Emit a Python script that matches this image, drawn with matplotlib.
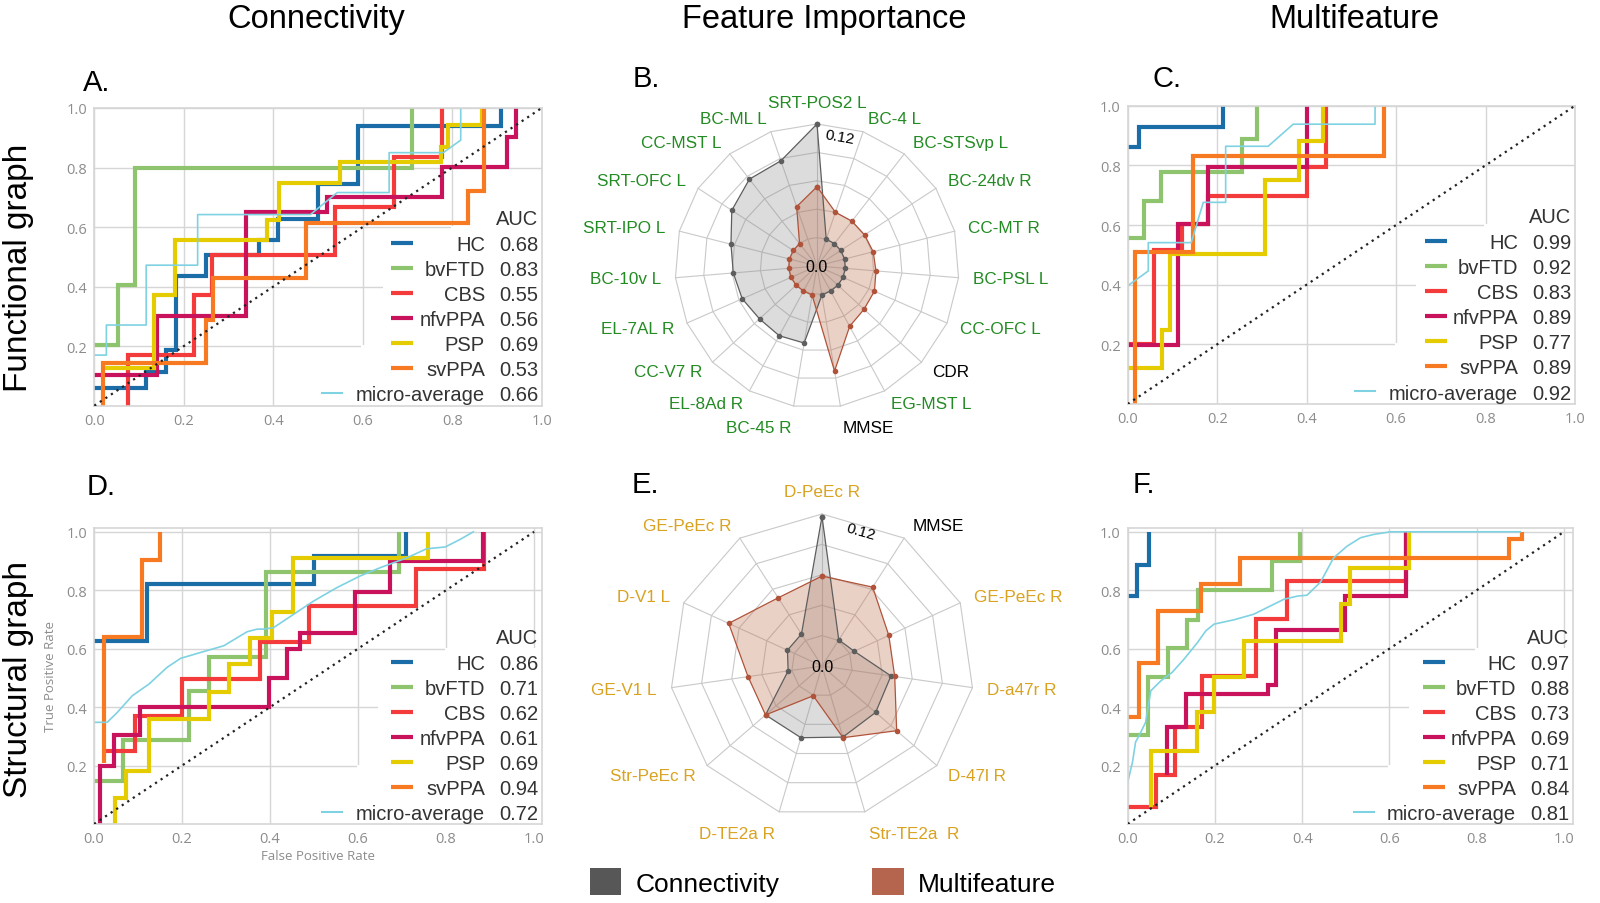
import numpy as np
import matplotlib
matplotlib.use('Agg')
import matplotlib.pyplot as plt
from matplotlib.lines import Line2D
from matplotlib.patches import Rectangle, Patch

plt.rcParams['font.family'] = ['Liberation Sans', 'DejaVu Sans']

W, H = 1600, 904

# ---------------- ROC data ----------------
classes = ['HC', 'bvFTD', 'CBS', 'nfvPPA', 'PSP', 'svPPA', 'micro-average']
class_colors = ['#1a6da6', '#8fc46f', '#f43b3b', '#c8135c', '#e5cc00', '#f77a22', '#7fd2e2']

# A. connectivity / functional graph
A_HC_x = [0, 0.116, 0.116, 0.161, 0.161, 0.183, 0.183, 0.25, 0.25, 0.368, 0.368, 0.41, 0.41, 0.5, 0.5, 0.59, 0.59, 0.91, 0.91]
A_HC_y = [0.058, 0.058, 0.114, 0.114, 0.187, 0.187, 0.436, 0.436, 0.506, 0.506, 0.556, 0.556, 0.626, 0.626, 0.746, 0.746, 0.94, 0.94, 1.0]
A_bvFTD_x = [0, 0.054, 0.054, 0.092, 0.092, 0.711, 0.711]
A_bvFTD_y = [0.204, 0.204, 0.405, 0.405, 0.80, 0.80, 1.0]
A_CBS_x = [0.075, 0.075, 0.222, 0.222, 0.263, 0.263, 0.539, 0.539, 0.67, 0.67, 0.778, 0.778]
A_CBS_y = [0.0, 0.17, 0.17, 0.371, 0.371, 0.506, 0.506, 0.668, 0.668, 0.836, 0.836, 1.0]
A_nfvPPA_x = [0, 0.14, 0.14, 0.339, 0.339, 0.52, 0.52, 0.778, 0.778, 0.922, 0.922, 0.942, 0.942]
A_nfvPPA_y = [0.103, 0.103, 0.301, 0.301, 0.651, 0.651, 0.70, 0.70, 0.802, 0.802, 0.903, 0.903, 1.0]
A_PSP_x = [0.02, 0.133, 0.133, 0.18, 0.18, 0.386, 0.386, 0.412, 0.412, 0.549, 0.549, 0.774, 0.774, 0.79, 0.79, 0.867, 0.867]
A_PSP_y = [0.125, 0.125, 0.371, 0.371, 0.556, 0.556, 0.625, 0.625, 0.749, 0.749, 0.819, 0.819, 0.87, 0.87, 0.942, 0.942, 1.0]
A_svPPA_x = [0.02, 0.02, 0.25, 0.25, 0.265, 0.265, 0.474, 0.474, 0.835, 0.835, 0.87, 0.87]
A_svPPA_y = [0.0, 0.142, 0.142, 0.287, 0.287, 0.43, 0.43, 0.615, 0.615, 0.72, 0.72, 1.0]
A_micro_x = [0, 0.027, 0.027, 0.116, 0.116, 0.231, 0.231, 0.483, 0.543, 0.659, 0.659, 0.78, 0.819, 0.819]
A_micro_y = [0.17, 0.17, 0.271, 0.271, 0.472, 0.472, 0.642, 0.642, 0.716, 0.716, 0.85, 0.85, 0.892, 1.0]
A_auc = [0.68, 0.83, 0.55, 0.56, 0.69, 0.53, 0.66]

# C. multifeature / functional graph
C_HC_x = [0, 0.026, 0.026, 0.212, 0.212]
C_HC_y = [0.862, 0.862, 0.927, 0.927, 1.0]
C_bvFTD_x = [0, 0.037, 0.037, 0.075, 0.075, 0.255, 0.255, 0.29, 0.29]
C_bvFTD_y = [0.556, 0.556, 0.681, 0.681, 0.779, 0.779, 0.888, 0.888, 1.0]
C_CBS_x = [0, 0.059, 0.059, 0.121, 0.121, 0.18, 0.18, 0.4, 0.4, 0.443, 0.443]
C_CBS_y = [0.2, 0.2, 0.516, 0.516, 0.603, 0.603, 0.698, 0.698, 0.795, 0.795, 1.0]
C_nfvPPA_x = [0, 0.112, 0.112, 0.18, 0.18, 0.4, 0.4]
C_nfvPPA_y = [0.198, 0.198, 0.603, 0.603, 0.795, 0.795, 1.0]
C_PSP_x = [0, 0.076, 0.076, 0.095, 0.095, 0.306, 0.306, 0.383, 0.383, 0.436, 0.436]
C_PSP_y = [0.122, 0.122, 0.248, 0.248, 0.504, 0.504, 0.752, 0.752, 0.88, 0.88, 1.0]
C_svPPA_x = [0.016, 0.016, 0.147, 0.147, 0.573, 0.573]
C_svPPA_y = [0.0, 0.508, 0.508, 0.832, 0.832, 1.0]
C_micro_x = [0, 0.046, 0.046, 0.142, 0.169, 0.219, 0.219, 0.314, 0.37, 0.553, 0.553]
C_micro_y = [0.396, 0.446, 0.541, 0.541, 0.676, 0.676, 0.864, 0.864, 0.938, 0.938, 1.0]
C_auc = [0.99, 0.92, 0.83, 0.89, 0.77, 0.89, 0.92]

# D. connectivity / structural graph
D_HC_x = [0, 0.121, 0.121, 0.499, 0.499, 0.709, 0.709]
D_HC_y = [0.625, 0.625, 0.822, 0.822, 0.917, 0.917, 1.0]
D_bvFTD_x = [0, 0.066, 0.066, 0.216, 0.216, 0.262, 0.262, 0.39, 0.39, 0.694, 0.694]
D_bvFTD_y = [0.146, 0.146, 0.286, 0.286, 0.456, 0.456, 0.57, 0.57, 0.862, 0.862, 1.0]
D_CBS_x = [0.02, 0.093, 0.093, 0.2, 0.2, 0.377, 0.377, 0.488, 0.488, 0.732, 0.732, 0.887, 0.887]
D_CBS_y = [0.249, 0.249, 0.371, 0.371, 0.496, 0.496, 0.623, 0.623, 0.746, 0.746, 0.874, 0.874, 1.0]
D_nfvPPA_x = [0.014, 0.014, 0.045, 0.045, 0.104, 0.104, 0.397, 0.397, 0.439, 0.439, 0.467, 0.467, 0.594, 0.594, 0.672, 0.672, 0.884, 0.884]
D_nfvPPA_y = [0.0, 0.2, 0.2, 0.303, 0.303, 0.40, 0.40, 0.498, 0.498, 0.598, 0.598, 0.655, 0.655, 0.794, 0.794, 0.90, 0.90, 1.0]
D_PSP_x = [0.047, 0.047, 0.072, 0.072, 0.126, 0.126, 0.262, 0.262, 0.306, 0.306, 0.354, 0.354, 0.405, 0.405, 0.452, 0.452, 0.76, 0.76]
D_PSP_y = [0.0, 0.089, 0.089, 0.18, 0.18, 0.36, 0.36, 0.453, 0.453, 0.547, 0.547, 0.635, 0.635, 0.726, 0.726, 0.911, 0.911, 1.0]
D_svPPA_x = [0.023, 0.023, 0.11, 0.11, 0.15, 0.15]
D_svPPA_y = [0.21, 0.64, 0.64, 0.903, 0.903, 1.0]
D_micro_x = [0, 0.03, 0.053, 0.087, 0.125, 0.166, 0.197, 0.242, 0.295, 0.348, 0.371, 0.386, 0.408, 0.454, 0.499, 0.552, 0.605, 0.65, 0.711, 0.756, 0.798, 0.832, 0.862]
D_micro_y = [0.348, 0.348, 0.382, 0.439, 0.479, 0.536, 0.567, 0.587, 0.61, 0.658, 0.667, 0.667, 0.672, 0.718, 0.763, 0.809, 0.849, 0.877, 0.911, 0.942, 0.948, 0.974, 1.0]
D_auc = [0.86, 0.71, 0.62, 0.61, 0.69, 0.94, 0.72]

# F. multifeature / structural graph
F_HC_x = [0, 0.021, 0.021, 0.049, 0.049]
F_HC_y = [0.78, 0.78, 0.887, 0.887, 1.0]
F_bvFTD_x = [0, 0.047, 0.047, 0.092, 0.092, 0.137, 0.137, 0.16, 0.16, 0.33, 0.33, 0.396, 0.396]
F_bvFTD_y = [0.303, 0.303, 0.502, 0.502, 0.601, 0.601, 0.699, 0.699, 0.80, 0.80, 0.90, 0.90, 1.0]
F_CBS_x = [0, 0.066, 0.066, 0.108, 0.108, 0.171, 0.171, 0.295, 0.295, 0.366, 0.366, 0.637, 0.637]
F_CBS_y = [0.058, 0.058, 0.168, 0.168, 0.331, 0.331, 0.505, 0.505, 0.703, 0.703, 0.832, 0.832, 1.0]
F_nfvPPA_x = [0.091, 0.091, 0.133, 0.133, 0.321, 0.321, 0.34, 0.34, 0.499, 0.499, 0.637, 0.637]
F_nfvPPA_y = [0.168, 0.331, 0.331, 0.445, 0.445, 0.476, 0.476, 0.664, 0.664, 0.78, 0.78, 1.0]
F_PSP_x = [0.053, 0.053, 0.158, 0.158, 0.198, 0.198, 0.266, 0.266, 0.488, 0.488, 0.509, 0.509, 0.644, 0.644]
F_PSP_y = [0.058, 0.251, 0.251, 0.382, 0.382, 0.502, 0.502, 0.627, 0.627, 0.752, 0.752, 0.877, 0.877, 1.0]
F_svPPA_x = [0, 0.026, 0.026, 0.07, 0.07, 0.167, 0.167, 0.257, 0.257, 0.873, 0.873, 0.904, 0.904]
F_svPPA_y = [0.365, 0.365, 0.551, 0.551, 0.729, 0.729, 0.82, 0.82, 0.911, 0.911, 0.977, 0.977, 1.0]
F_micro_x = [0, 0.011, 0.018, 0.03, 0.041, 0.053, 0.076, 0.102, 0.129, 0.16, 0.179, 0.198, 0.244, 0.289, 0.32, 0.358, 0.389, 0.411, 0.442, 0.472, 0.503, 0.534, 0.564, 0.602, 0.9]
F_micro_y = [0.143, 0.212, 0.28, 0.314, 0.348, 0.456, 0.49, 0.519, 0.564, 0.621, 0.661, 0.684, 0.699, 0.718, 0.741, 0.769, 0.78, 0.783, 0.828, 0.911, 0.951, 0.98, 0.991, 1.0, 1.0]
F_auc = [0.97, 0.88, 0.73, 0.69, 0.71, 0.84, 0.81]

# ---------------- radar data ----------------
B_labels = ['SRT-POS2 L', 'BC-4 L', 'BC-STSvp L', 'BC-24dv R', 'CC-MT R', 'BC-PSL L', 'CC-OFC L', 'CDR',
            'EG-MST L', 'MMSE', 'BC-45 R', 'EL-8Ad R', 'CC-V7 R', 'EL-7AL R', 'BC-10v L', 'SRT-IPO L',
            'SRT-OFC L', 'CC-MST L', 'BC-ML L']
B_conn = [0.12, 0.024, 0.024, 0.024, 0.024, 0.024, 0.024, 0.024, 0.024, 0.025,
          0.066, 0.067, 0.066, 0.069, 0.071, 0.075, 0.086, 0.093, 0.094]
B_multi = [0.067, 0.048, 0.048, 0.048, 0.049, 0.050, 0.053, 0.054, 0.058, 0.090,
           0.025, 0.024, 0.024, 0.024, 0.024, 0.024, 0.024, 0.024, 0.053]

E_labels = ['D-PeEc R', 'MMSE', 'GE-PeEc R', 'D-a47r R', 'D-47l R', 'Str-TE2a  R', 'D-TE2a R',
            'Str-PeEc R', 'GE-V1 L', 'D-V1 L', 'GE-PeEc R']
E_conn = [0.118, 0.0245, 0.028, 0.055, 0.056, 0.0585, 0.059, 0.059, 0.027, 0.030, 0.030]
E_multi = [0.071, 0.074, 0.058, 0.058, 0.078, 0.059, 0.0245, 0.059, 0.059, 0.081, 0.064]

clinical = ['CDR', 'MMSE']

fig = plt.figure(figsize=(W / 100, H / 100), dpi=100)


def px_rect(l, t, r, b):
    return [l / W, 1 - b / H, (r - l) / W, (b - t) / H]


grid_col = '#d6d6d6'
tick_col = '#8c8c8c'
txt_col = '#333333'


def roc_panel(rect, xs, ys, aucs, xmax, ymax):
    ax = fig.add_axes(rect)
    ax.set_xlim(0, xmax)
    ax.set_ylim(0, ymax)
    ax.set_xticks([0, 0.2, 0.4, 0.6, 0.8, 1.0])
    ax.set_xticklabels(['0.0', '0.2', '0.4', '0.6', '0.8', '1.0'], fontfamily='Open Sans')
    ax.set_yticks([0.2, 0.4, 0.6, 0.8, 1.0])
    ax.set_yticklabels(['0.2', '0.4', '0.6', '0.8', '1.0'], fontfamily='Open Sans')
    ax.tick_params(length=0, pad=5, labelsize=10.5, labelcolor=tick_col)
    ax.grid(True, color=grid_col, lw=1.0)
    ax.set_axisbelow(True)
    for s in ax.spines.values():
        s.set_color(grid_col)
        s.set_linewidth(1.2)
    # white legend background hiding part of the grid
    for x0, y1 in [(0.597, 0.203), (0.645, 0.55), (0.797, 0.604)]:
        ax.add_patch(Rectangle((x0, -0.01), 1.1 - x0, y1 + 0.01, facecolor='white',
                               edgecolor='none', zorder=1))
    for i in range(6):
        ax.plot(xs[i], ys[i], color=class_colors[i], lw=3.0, zorder=2,
                solid_joinstyle='miter', solid_capstyle='butt')
    ax.plot(xs[6], ys[6], color=class_colors[6], lw=1.2, zorder=2.1)
    ax.plot([0, 1], [0, 1], color='#222222', ls=(0, (1, 2)), lw=1.6, zorder=3)

    # legend: handle, right aligned name and AUC
    fs = 14.5
    ax.text(0.992, 0.635 - 0.024, 'AUC', transform=ax.transAxes, ha='right', va='baseline',
            fontsize=fs, color=txt_col)
    for i, name in enumerate(classes):
        y = 0.548 - i * 0.0843
        ax.text(0.873, y - 0.024, name, transform=ax.transAxes, ha='right', va='baseline',
                fontsize=fs, color=txt_col)
        ax.text(0.992, y - 0.024, f'{aucs[i]:.2f}', transform=ax.transAxes, ha='right',
                va='baseline', fontsize=fs, color=txt_col)
        if i < 6:
            key = Line2D([0.664, 0.713], [y, y], transform=ax.transAxes, color=class_colors[i],
                         lw=3.0, solid_capstyle='butt', clip_on=False)
        else:
            key = Line2D([0.508, 0.553], [y, y], transform=ax.transAxes, color=class_colors[i],
                         lw=1.5, clip_on=False)
        ax.add_line(key)
    return ax


axA = roc_panel(px_rect(94.3, 109, 541.7, 406.7),
                [A_HC_x, A_bvFTD_x, A_CBS_x, A_nfvPPA_x, A_PSP_x, A_svPPA_x, A_micro_x],
                [A_HC_y, A_bvFTD_y, A_CBS_y, A_nfvPPA_y, A_PSP_y, A_svPPA_y, A_micro_y],
                A_auc, 1.0, 1.0)
axC = roc_panel(px_rect(1127.7, 106.7, 1575, 405),
                [C_HC_x, C_bvFTD_x, C_CBS_x, C_nfvPPA_x, C_PSP_x, C_svPPA_x, C_micro_x],
                [C_HC_y, C_bvFTD_y, C_CBS_y, C_nfvPPA_y, C_PSP_y, C_svPPA_y, C_micro_y],
                C_auc, 1.0, 1.0)
axD = roc_panel(px_rect(94, 529, 542, 825),
                [D_HC_x, D_bvFTD_x, D_CBS_x, D_nfvPPA_x, D_PSP_x, D_svPPA_x, D_micro_x],
                [D_HC_y, D_bvFTD_y, D_CBS_y, D_nfvPPA_y, D_PSP_y, D_svPPA_y, D_micro_y],
                D_auc, 1.018, 1.013)
axF = roc_panel(px_rect(1127.7, 529, 1572.7, 825),
                [F_HC_x, F_bvFTD_x, F_CBS_x, F_nfvPPA_x, F_PSP_x, F_svPPA_x, F_micro_x],
                [F_HC_y, F_bvFTD_y, F_CBS_y, F_nfvPPA_y, F_PSP_y, F_svPPA_y, F_micro_y],
                F_auc, 1.02, 1.013)
axD.set_xlabel('False Positive Rate', fontsize=9.5, color=tick_col, fontfamily='Open Sans', labelpad=2)
axD.set_ylabel('True Positive Rate', fontsize=9.5, color=tick_col, fontfamily='Open Sans', labelpad=7)


def radar_panel(cx, cy, R, labels, conn, multi, lab_color, tick_angle):
    ax = fig.add_axes(px_rect(cx - R, cy - R, cx + R, cy + R), projection='polar')
    ax.set_theta_zero_location('N')
    ax.set_theta_direction(-1)
    ax.set_ylim(0, 0.12)
    ax.grid(False)
    ax.spines['polar'].set_visible(False)
    ax.set_xticks([])
    ax.set_yticks([])
    ax.patch.set_alpha(0)
    n = len(labels)
    ang = np.arange(n) * 2 * np.pi / n
    ang_c = np.append(ang, ang[0])
    for r in [0.024, 0.048, 0.072, 0.096, 0.12]:
        ax.plot(ang_c, np.full(n + 1, r), color='#c9c9c9', lw=0.8, zorder=1, clip_on=False)
    for a in ang:
        ax.plot([a, a], [0, 0.12], color='#c9c9c9', lw=0.8, zorder=1, clip_on=False)
    conn_c = np.append(conn, conn[0])
    multi_c = np.append(multi, multi[0])
    ax.fill(ang_c, conn_c, color='#8c8c8c', alpha=0.3, zorder=2, lw=0)
    ax.plot(ang_c, conn_c, color='#5e5e5e', lw=0.9, marker='o', ms=3, zorder=3, clip_on=False)
    ax.fill(ang_c, multi_c, color='#c0704f', alpha=0.32, zorder=2, lw=0)
    ax.plot(ang_c, multi_c, color='#b0533a', lw=0.9, marker='o', ms=3, zorder=3, clip_on=False)
    for a, lab in zip(ang, labels):
        s, c = np.sin(a), np.cos(a)
        ha = 'left' if s > 0.05 else ('right' if s < -0.05 else 'center')
        va = 'bottom' if c > 0.95 else ('top' if c < -0.95 else 'center')
        col = 'black' if lab in clinical else lab_color
        ax.text(a, 0.132, lab, ha=ha, va=va, fontsize=12.3, color=col, clip_on=False)
    ax.text(0, 0, '0.0', ha='center', va='center', fontsize=11.5, color='black', zorder=4)
    ax.text(np.deg2rad(tick_angle), 0.111, '0.12', ha='center', va='center', fontsize=11,
            rotation=-tick_angle, color='black', zorder=4)
    return ax


radar_panel(817, 267, 142, B_labels, B_conn, B_multi, '#238b23', 10)
radar_panel(822, 667, 152, E_labels, E_conn, E_multi, '#d9a21f', 16)

# titles and panel letters
fig.text(316 / W, 1 - 28 / H, 'Connectivity', ha='center', va='baseline', fontsize=23.5)
fig.text(824 / W, 1 - 28 / H, 'Feature Importance', ha='center', va='baseline', fontsize=23.5)
fig.text(1354 / W, 1 - 28 / H, 'Multifeature', ha='center', va='baseline', fontsize=23.5)
fig.text(19 / W, 1 - 268 / H, 'Functional graph', rotation=90, ha='center', va='center', fontsize=24)
fig.text(19 / W, 1 - 680 / H, 'Structural graph', rotation=90, ha='center', va='center', fontsize=24)
for lab, x, y in [('A.', 83, 91), ('B.', 633, 87), ('C.', 1153, 87),
                  ('D.', 87, 495), ('E.', 632, 493), ('F.', 1133, 493)]:
    fig.text(x / W, 1 - y / H, lab, ha='left', va='baseline', fontsize=21)

# bottom legend
handles = [Patch(facecolor='#575757', edgecolor='none'), Patch(facecolor='#b5654d', edgecolor='none')]
fig.legend(handles, ['Connectivity', 'Multifeature'], ncol=2, loc='center',
           bbox_to_anchor=(823 / W, 1 - 883 / H), frameon=False, fontsize=19,
           handlelength=1.2, handleheight=1.2, handletextpad=0.55, columnspacing=3.5,
           borderpad=0)

fig.savefig('out.png', dpi=100)
